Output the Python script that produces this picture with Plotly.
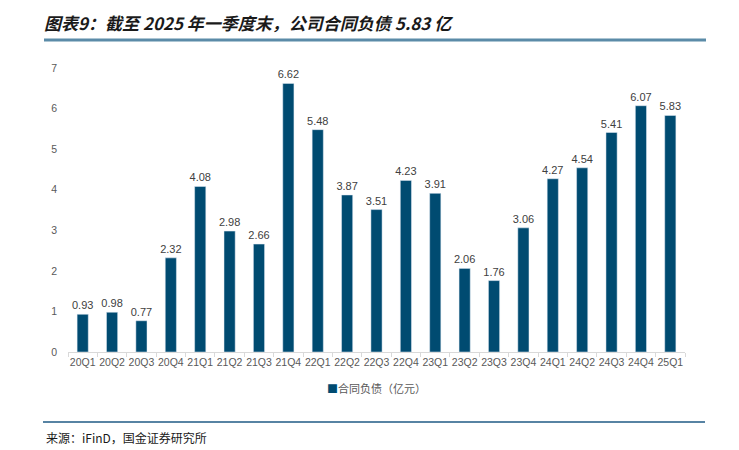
import plotly.graph_objects as go

categories = ["20Q1","20Q2","20Q3","20Q4","21Q1","21Q2","21Q3","21Q4","22Q1","22Q2","22Q3","22Q4",
              "23Q1","23Q2","23Q3","23Q4","24Q1","24Q2","24Q3","24Q4","25Q1"]
values = [0.93,0.98,0.77,2.32,4.08,2.98,2.66,6.62,5.48,3.87,3.51,4.23,3.91,2.06,1.76,3.06,4.27,4.54,5.41,6.07,5.83]
ytick_vals = [0,1,2,3,4,5,6,7]
series_name = "合同负债（亿元）"
title_text = "图表9：截至 2025 年一季度末，公司合同负债 5.83 亿"
source_text = "来源：iFinD，国金证券研究所"

O = 8  # page body offset
W, H = 739 - O, 450 - O
L, R, T, B = 68 - O, 54, 68 - O, 98
PW, PH = W - L - R, H - T - B
bar_color = "#004B71"

def px_x(x):
    return (x - O - L) / PW

def px_y(y):
    return (H - B - (y - O)) / PH

fig = go.Figure()
fig.add_trace(go.Bar(
    x=categories, y=values, name=series_name, marker_color=bar_color,
    text=[f"{v:.2f}" for v in values], textposition="outside", constraintext="none",
    textfont=dict(size=11, color="#404040", family="Liberation Sans, Arial"),
    cliponaxis=False, width=0.38, showlegend=False,
))

fig.update_layout(
    width=W, height=H,
    margin=dict(l=L, r=R, t=T, b=B, autoexpand=False),
    paper_bgcolor="white", plot_bgcolor="white",
    font=dict(family="Liberation Sans, Arial", size=11, color="#595959"),
    showlegend=False,
    xaxis=dict(type="category", showgrid=False, showline=True, linecolor="#D9D9D9", linewidth=1,
               ticks="outside", tickson="boundaries", ticklen=4, tickcolor="#D9D9D9",
               tickangle=0, automargin=False,
               tickfont=dict(size=10.5, color="#595959")),
    yaxis=dict(range=[0, 7], tickvals=ytick_vals, showgrid=False, zeroline=False, showline=False,
               ticks="", ticklabelstandoff=10, automargin=False,
               tickfont=dict(size=10.5, color="#595959")),
)

# legend (drawn as text)
fig.add_annotation(text=f"<span style='color:{bar_color}'>■</span>{series_name}",
                   xref="paper", yref="paper", x=px_x(376), y=px_y(388),
                   xanchor="center", yanchor="middle", showarrow=False,
                   font=dict(size=11, color="#595959", family="Noto Sans CJK SC"))
# title
fig.add_annotation(text="<b><i>" + title_text + "</i></b>", xref="paper", yref="paper",
                   x=px_x(42), y=px_y(22),
                   xanchor="left", yanchor="middle", showarrow=False,
                   font=dict(size=17, color="#1a1a1a", family="Noto Sans CJK SC"))
# title underline
fig.add_shape(type="line", xref="paper", yref="paper",
              x0=px_x(44), x1=px_x(706), y0=px_y(40), y1=px_y(40),
              line=dict(color="#5B8BA8", width=3))
# bottom line
fig.add_shape(type="line", xref="paper", yref="paper",
              x0=px_x(43), x1=px_x(705), y0=px_y(422), y1=px_y(422),
              line=dict(color="#1F5A85", width=1.5))
# source
fig.add_annotation(text=source_text, xref="paper", yref="paper",
                   x=px_x(44), y=px_y(437),
                   xanchor="left", yanchor="middle", showarrow=False,
                   font=dict(size=12, color="#1a1a1a", family="Noto Sans CJK SC"))

fig.write_html("out.html")
